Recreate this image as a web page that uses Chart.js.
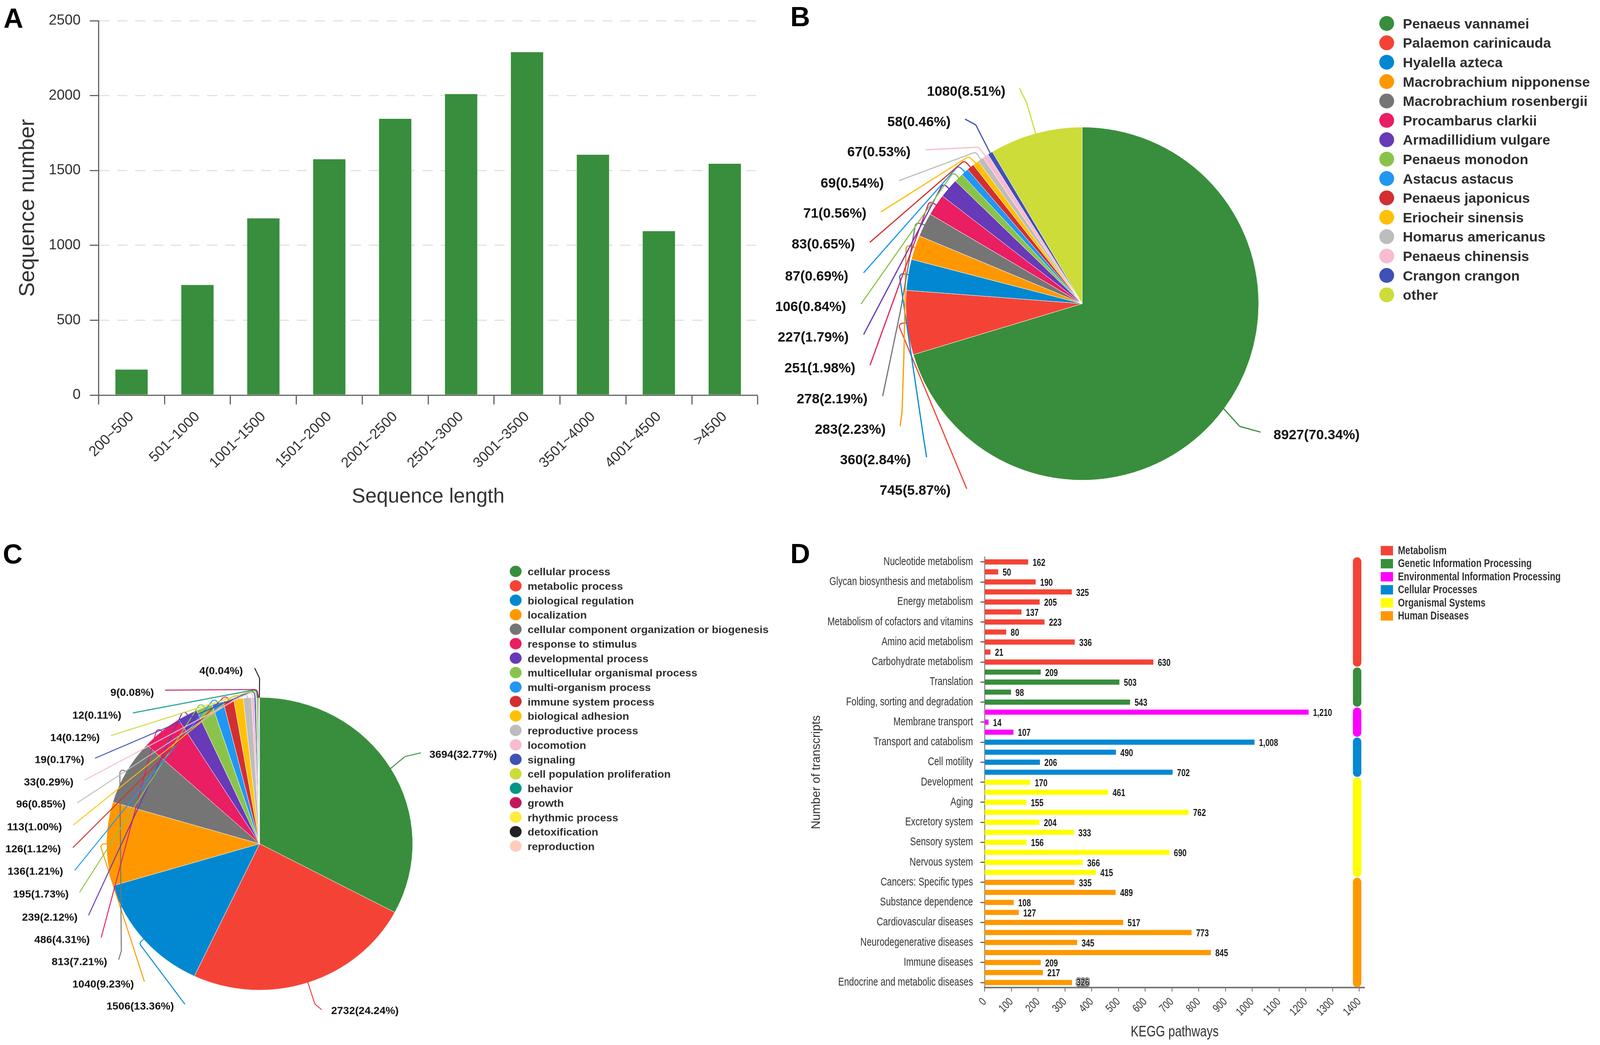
<!DOCTYPE html>
<html>
<head>
<meta charset="utf-8">
<title>Transcript annotation</title>
<script src="https://cdn.jsdelivr.net/npm/chart.js@4"></script>
<style>
  html, body { margin: 0; padding: 0; background: #fff; overflow: hidden; }
  #page { position: relative; width: 100vw; height: 2674px; }
  canvas { position: absolute; left: 0; top: 0; }
  .tag { position: absolute; font: bold 70px "Liberation Sans", Arial, sans-serif; line-height: 74px; color: #000; }
</style>
</head>
<body>
<div id="page">
  <canvas id="chartA"></canvas>
  <canvas id="chartB"></canvas>
  <canvas id="chartC"></canvas>
  <canvas id="chartD"></canvas>
  <div class="tag" id="tagA" style="top:10px">A</div>
  <div class="tag" id="tagB" style="top:6px">B</div>
  <div class="tag" id="tagC" style="top:1381px">C</div>
  <div class="tag" id="tagD" style="top:1380px">D</div>
</div>
<script>
/* panel A */
const lengthBins = ['200~500', '501~1000', '1001~1500', '1501~2000', '2001~2500', '2501~3000', '3001~3500', '3501~4000', '4001~4500', '>4500'];
const lengthCounts = [170, 735, 1180, 1575, 1845, 2010, 2290, 1605, 1095, 1545];

/* panel B */
const speciesNames = ['Penaeus vannamei', 'Palaemon carinicauda', 'Hyalella azteca', 'Macrobrachium nipponense', 'Macrobrachium rosenbergii', 'Procambarus clarkii', 'Armadillidium vulgare', 'Penaeus monodon', 'Astacus astacus', 'Penaeus japonicus', 'Eriocheir sinensis', 'Homarus americanus', 'Penaeus chinensis', 'Crangon crangon', 'other'];
const speciesCounts = [8927, 745, 360, 283, 278, 251, 227, 106, 87, 83, 71, 69, 67, 58, 1080];

/* panel C */
const goTerms = ['cellular process', 'metabolic process', 'biological regulation', 'localization', 'cellular component organization or biogenesis', 'response to stimulus', 'developmental process', 'multicellular organismal process', 'multi-organism process', 'immune system process', 'biological adhesion', 'reproductive process', 'locomotion', 'signaling', 'cell population proliferation', 'behavior', 'growth', 'rhythmic process', 'detoxification', 'reproduction'];
const goCounts = [3694, 2732, 1506, 1040, 813, 486, 239, 195, 136, 126, 113, 96, 33, 19, 14, 12, 9, 4, 4, 1];

/* panel D */
const keggNames = ['Nucleotide metabolism', '', 'Glycan biosynthesis and metabolism', '', 'Energy metabolism', '', 'Metabolism of cofactors and vitamins', '', 'Amino acid metabolism', '', 'Carbohydrate metabolism', '', 'Translation', '', 'Folding, sorting and degradation', '', 'Membrane transport', '', 'Transport and catabolism', '', 'Cell motility', '', 'Development', '', 'Aging', '', 'Excretory system', '', 'Sensory system', '', 'Nervous system', '', 'Cancers: Specific types', '', 'Substance dependence', '', 'Cardiovascular diseases', '', 'Neurodegenerative diseases', '', 'Immune diseases', '', 'Endocrine and metabolic diseases'];
const keggCounts = [162, 50, 190, 325, 205, 137, 223, 80, 336, 21, 630, 209, 503, 98, 543, 1210, 14, 107, 1008, 490, 206, 702, 170, 461, 155, 762, 204, 333, 156, 690, 366, 415, 335, 489, 108, 127, 517, 773, 345, 845, 209, 217, 326];
const keggGroups = ['Metabolism', 'Genetic Information Processing', 'Environmental Information Processing', 'Cellular Processes', 'Organismal Systems', 'Human Diseases'];
const keggGroupSizes = [11, 4, 3, 4, 10, 11];

/* colours */
const pieColors = ['#388E3C', '#F44336', '#0288D1', '#FF9800', '#757575', '#E91E63', '#673AB7', '#8BC34A', '#2196F3', '#D32F2F', '#FFC107', '#BDBDBD', '#F8BBD0', '#3F51B5', '#CDDC39', '#009688', '#C2185B', '#FFEB3B', '#212121', '#FFCCBC'];
const speciesColors = pieColors.slice(0, 14).concat('#CDDC39');
const groupColors = ['#F44336', '#388E3C', '#FF00FF', '#0288D1', '#FFFF00', '#FF9800'];

/* label spots for the pies, in reference pixels: text anchor and the way the leader runs */
const labelSpotB = [[3601, 1132], [2730, 1282], [2623, 1200], [2555, 1118], [2506, 1035], [2473, 952], [2455, 869], [2448, 787], [2454, 705], [2472, 618], [2503, 535], [2550, 454], [2622, 370], [2730, 288], [2878, 206]];
const leaderB = [
  [[3510, 1108], [3565, 1123]], [[2588, 831], [2773, 1275]], [[2591, 695], [2658, 1145], [2665, 1190]],
  [[2610, 618], [2604, 915], [2599, 1068], [2594, 1106]], [[2636, 558], [2594, 800], [2547, 1025]],
  [[2673, 500], [2513, 942]], [[2710, 452], [2496, 859]], [[2738, 422], [2489, 777]], [[2751, 405], [2496, 693]],
  [[2767, 391], [2513, 611]], [[2779, 380], [2543, 529]], [[2798, 368], [2592, 445]], [[2805, 355], [2663, 362]],
  [[2798, 295], [2770, 280]], [[2935, 235], [2916, 197]]
];
const labelSpotC = [[1198, 1920], [933, 2611], [509, 2598], [401, 2539], [329, 2479], [282, 2419], [249, 2359], [225, 2296], [210, 2235], [204, 2175], [207, 2115], [217, 2054], [238, 1994], [267, 1934], [309, 1874], [367, 1814], [455, 1753], null, [695, 1694], null];
const leaderC = [
  [[1132, 1924], [1174, 1914]], [[889, 2591], [907, 2606]], [[415, 2427], [538, 2591]], [[309, 2159], [429, 2530]],
  [[363, 1955], [367, 2448], [360, 2471]], [[465, 1841], [313, 2411]], [[536, 1795], [279, 2351]], [[584, 1774], [255, 2289]],
  [[622, 1762], [242, 2230]], [[652, 1755], [237, 2169]], [[682, 1751], [238, 2108]], [[705, 1749], [249, 2048]],
  [[721, 1747], [269, 1987]], [[725, 1745], [297, 1928]], [[729, 1744], [340, 1867]], [[732, 1743], [399, 1806]],
  [[733, 1743], [486, 1745]], null, [[740, 1713], [727, 1686]], null
];

/* the browser window can come out narrower than the reference, so x positions follow the real width */
const PAGE_W = window.innerWidth, PAGE_H = 2674;
const SX = PAGE_W / 4561;
const PIE_K = (1 + SX) / 2;
const NARROW_X = 0.87 * SX;
const SANS = '"Liberation Sans", Arial, sans-serif';
const NARROW = '"Liberation Sans Narrow", "Liberation Sans", Arial, sans-serif';

['chartA', 'chartB', 'chartC', 'chartD'].forEach(id => {
    const c = document.getElementById(id);
    c.width = PAGE_W;
    c.height = PAGE_H;
});
[['tagA', 10], ['tagB', 2253], ['tagC', 8], ['tagD', 2253]].forEach(t => {
    document.getElementById(t[0]).style.left = t[1] * SX + 'px';
});
const canvasC = document.getElementById('chartC');
canvasC.style.transformOrigin = 740 * SX + 'px 2159px';
canvasC.style.transform = 'scaleY(0.9556)';

Chart.defaults.font.family = SANS;
Chart.defaults.animation = false;
Chart.defaults.responsive = false;
Chart.defaults.devicePixelRatio = 1;
Chart.defaults.plugins.legend.display = false;
Chart.defaults.plugins.tooltip.enabled = false;

/* leaders, value labels and dot legend for a pie */
function pieExtras(cfg) {
    return {
        id: 'pieExtras',
        afterDatasetsDraw(chart) {
            const ctx = chart.ctx;
            const arcs = chart.getDatasetMeta(0).data;
            const total = cfg.values.reduce((a, b) => a + b, 0);
            const fx = x => cfg.cx * SX + (x - cfg.cx) * PIE_K;
            const fy = y => cfg.cy + (y - cfg.cy) * PIE_K / cfg.squash;
            const ly = y => cfg.cy + (y - cfg.cy) / cfg.squash;
            ctx.save();
            arcs.forEach((arc, i) => {
                if (!cfg.spots[i]) return;
                const mid = (arc.startAngle + arc.endAngle) / 2;
                const pts = cfg.leaders[i].map(p => [fx(p[0]), fy(p[1])]);
                ctx.beginPath();
                ctx.moveTo(arc.x + Math.cos(mid) * arc.outerRadius, arc.y + Math.sin(mid) * arc.outerRadius);
                for (let k = 0; k < pts.length - 1; k++) {
                    ctx.arcTo(pts[k][0], pts[k][1], pts[k + 1][0], pts[k + 1][1], 8);
                }
                ctx.lineTo(pts[pts.length - 1][0], pts[pts.length - 1][1]);
                ctx.strokeStyle = cfg.colors[i];
                ctx.lineWidth = cfg.leaderWidth;
                ctx.lineCap = 'round';
                ctx.stroke();
            });
            ctx.fillStyle = '#111';
            ctx.font = 'bold ' + cfg.labelSize * PIE_K + 'px ' + SANS;
            ctx.textBaseline = 'middle';
            cfg.spots.forEach((spot, i) => {
                if (!spot) return;
                ctx.textAlign = spot[0] > cfg.cx ? 'left' : 'right';
                const pct = (cfg.values[i] / total * 100).toFixed(2);
                ctx.fillText(cfg.values[i] + '(' + pct + '%)', fx(spot[0]), fy(spot[1]));
            });
            ctx.textAlign = 'left';
            ctx.font = 'bold ' + cfg.legend.size * SX + 'px ' + SANS;
            cfg.names.forEach((name, i) => {
                const y = ly(cfg.legend.y + i * cfg.legend.step);
                ctx.beginPath();
                ctx.arc(cfg.legend.x * SX, y, cfg.legend.r * PIE_K, 0, Math.PI * 2);
                ctx.fillStyle = cfg.colors[i];
                ctx.fill();
                ctx.fillStyle = '#2e2e2e';
                ctx.fillText(name, cfg.legend.textX * SX, y + 3);
            });
            ctx.restore();
        }
    };
}

function makePie(id, names, values, colors, cx, cy, r, extra) {
    const radius = r * PIE_K, centre = cx * SX;
    return new Chart(document.getElementById(id), {
        type: 'pie',
        data: {
            labels: names,
            datasets: [{ data: values, backgroundColor: colors, borderColor: '#fff', borderWidth: 1, radius }]
        },
        options: {
            layout: { padding: { left: centre - radius, right: PAGE_W - centre - radius, top: cy - radius, bottom: PAGE_H - cy - radius } }
        },
        plugins: [pieExtras(Object.assign({ names, values, colors, cx, cy }, extra))]
    });
}

/* chart A */
new Chart(document.getElementById('chartA'), {
    type: 'bar',
    data: {
        labels: lengthBins,
        datasets: [{ data: lengthCounts, backgroundColor: '#388E3C', barPercentage: 0.49, categoryPercentage: 1 }]
    },
    options: {
        layout: { padding: { top: 53, right: PAGE_W - 2160 * SX } },
        scales: {
            x: {
                afterFit(s) { s.height = PAGE_H - 1011; },
                border: { color: '#666', width: 3 },
                grid: { drawOnChartArea: false, tickLength: 24, tickColor: '#666', tickWidth: 3 },
                ticks: { minRotation: 45, maxRotation: 45, color: '#333', padding: 10, font: { size: 41 * SX } },
                title: { display: true, text: 'Sequence length', color: '#333', font: { size: 58 * SX }, padding: { bottom: PAGE_H - 1271 - 35 * SX } }
            },
            y: {
                min: 0, max: 2500,
                afterFit(s) { s.width = 281 * SX; },
                border: { color: '#666', width: 3, dash: [26, 20] },
                grid: { color: '#e2e2e2', lineWidth: 3, tickLength: 25 * SX, tickColor: '#666', tickWidth: 3 },
                ticks: { stepSize: 500, color: '#333', padding: 26 * SX, font: { size: 41 * SX }, callback: v => v },
                title: { display: true, text: 'Sequence number', color: '#333', font: { size: 62 * SX }, padding: { top: 80 * SX - 37 * SX } }
            }
        }
    }
});

/* chart B */
makePie('chartB', speciesNames, speciesCounts, speciesColors, 3085, 777, 476, {
    spots: labelSpotB, leaders: leaderB, squash: 1, leaderWidth: 3, labelSize: 37,
    legend: { x: 3953, y: 60, step: 49.6, r: 20, textX: 3999, size: 40 }
});

/* chart C */
makePie('chartC', goTerms, goCounts, pieColors, 740, 2159, 413, {
    spots: labelSpotC, leaders: leaderC, squash: 0.9556, leaderWidth: 2.5, labelSize: 29,
    legend: { x: 1470, y: 1462, step: 37, r: 16, textX: 1504, size: 31 }
});

/* chart D */
const barGroupColors = [];
keggGroupSizes.forEach((n, g) => { for (let i = 0; i < n; i++) barGroupColors.push(groupColors[g]); });

/* the panel's text is a condensed face and no condensed font is installed: squeeze it when drawn */
const ctxD = document.getElementById('chartD').getContext('2d');
['fillText', 'strokeText'].forEach(fn => {
    const draw = ctxD[fn].bind(ctxD);
    ctxD[fn] = (text, x, y, maxWidth) => {
        if (!ctxD.font.includes('Narrow')) return draw(text, x, y, maxWidth);
        ctxD.save();
        ctxD.translate(x, y);
        ctxD.scale(NARROW_X, 1);
        draw(text, 0, 0);
        ctxD.restore();
    };
});

const keggExtras = {
    id: 'keggExtras',
    afterDatasetsDraw(chart) {
        const ctx = chart.ctx;
        const xs = chart.scales.x, ys = chart.scales.y;
        const band = ys.getPixelForValue(1) - ys.getPixelForValue(0);
        ctx.save();
        /* value labels */
        ctx.font = 'bold 25px ' + NARROW;
        ctx.textAlign = 'left';
        ctx.textBaseline = 'middle';
        chart.getDatasetMeta(0).data.forEach((bar, i) => {
            const txt = keggCounts[i].toLocaleString('en-US');
            const tx = bar.x + 13 * SX;
            const last = i === keggCounts.length - 1;
            const ty = bar.y + (last ? 1 : 3);
            if (last) {
                ctx.lineJoin = 'round';
                ctx.strokeStyle = '#333';
                ctx.lineWidth = 6;
                ctx.strokeText(txt, tx, ty);
                ctx.strokeStyle = '#fff';
                ctx.lineWidth = 3;
                ctx.strokeText(txt, tx, ty);
            }
            ctx.fillStyle = '#1a1a1a';
            ctx.fillText(txt, tx, ty);
        });
        /* group pills on the right */
        const pillW = 24 * SX, pillX = xs.getPixelForValue(1392) - pillW / 2;
        let start = 0;
        keggGroupSizes.forEach((n, g) => {
            const top = ys.getPixelForValue(start) - band / 2 + 1;
            const bottom = ys.getPixelForValue(start + n - 1) + band / 2 - 1;
            ctx.beginPath();
            ctx.roundRect(pillX, top, pillW, bottom - top, pillW / 2);
            ctx.fillStyle = groupColors[g];
            ctx.fill();
            start += n;
        });
        /* legend */
        ctx.font = 'bold 29px ' + NARROW;
        keggGroups.forEach((name, g) => {
            const y = 1409 + g * 33.4;
            ctx.fillStyle = groupColors[g];
            ctx.fillRect(3936 * SX, y - 12, 35 * SX, 24);
            ctx.fillStyle = '#333';
            ctx.fillText(name, 3985 * SX, y + 1);
        });
        ctx.restore();
    }
};

new Chart(ctxD, {
    type: 'bar',
    data: {
        labels: keggNames,
        datasets: [{ data: keggCounts, backgroundColor: barGroupColors, barThickness: 12.5 }]
    },
    options: {
        indexAxis: 'y',
        layout: { padding: { top: 1425, right: PAGE_W - 3890 * SX } },
        scales: {
            x: {
                min: 0, max: 1420,
                afterFit(s) { s.height = PAGE_H - 2527; },
                border: { color: '#777', width: 4 },
                grid: { drawOnChartArea: false, tickLength: 10, tickColor: '#666', tickWidth: 2 },
                ticks: { stepSize: 100, includeBounds: false, minRotation: 45, maxRotation: 45, color: '#333', padding: 10, font: { size: 29, family: NARROW }, callback: v => v },
                title: { display: true, text: 'KEGG pathways', color: '#333', font: { size: 39, family: NARROW }, padding: { bottom: 9 } }
            },
            y: {
                afterFit(s) { s.width = 2807 * SX; },
                border: { color: '#666', width: 2 },
                grid: {
                    offset: false, drawOnChartArea: false, tickLength: 11, tickWidth: 3,
                    tickColor: c => (c.index % 2 ? 'rgba(0,0,0,0)' : '#666')
                },
                ticks: { autoSkip: false, color: '#333', padding: 21 * SX, font: { size: 29, family: NARROW } },
                title: { display: true, text: 'Number of transcripts', color: '#333', font: { size: 34 * SX }, padding: { top: 2328 * SX - 18 } }
            }
        }
    },
    plugins: [keggExtras]
});
</script>
</body>
</html>
